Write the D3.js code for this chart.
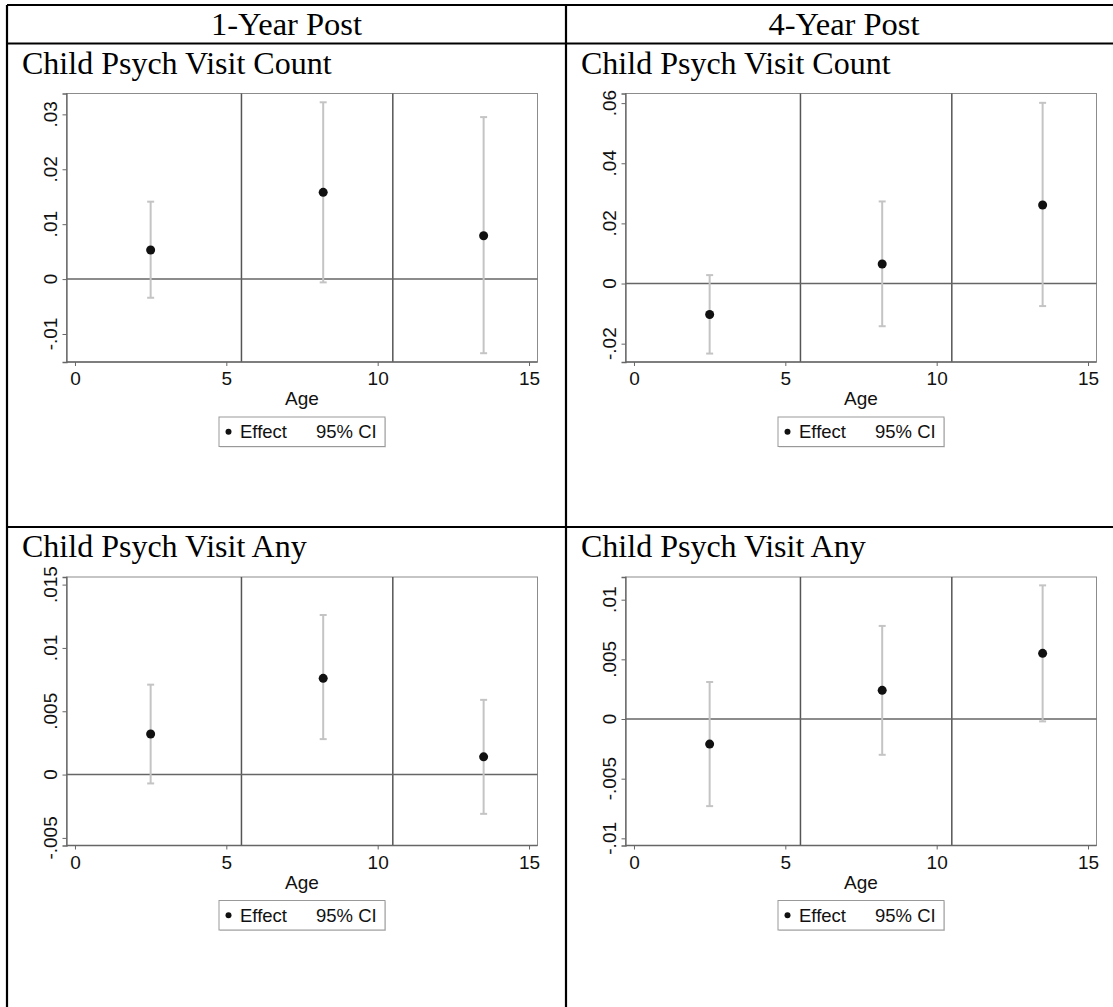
<!DOCTYPE html>
<html>
<head>
<meta charset="utf-8">
<script src="https://cdn.jsdelivr.net/npm/d3@7"></script>
<style>
  body { margin: 0; background: #fff; }
  svg { display: block; }
</style>
</head>
<body>
<div id="chart"></div>
<script>
// age group midpoints on the x axis
const ages = [2.5, 8.2, 13.5];
const cutLines = [5.5, 10.5];
const xTicks = [0, 5, 10, 15];

// 1-year post, visit count
const count1Effect = [0.0053, 0.0158, 0.0079];
const count1Lo = [-0.0034, -0.0006, -0.0135];
const count1Hi = [0.0141, 0.0322, 0.0295];
const count1Ticks = [-0.01, 0, 0.01, 0.02, 0.03];

// 4-year post, visit count
const count4Effect = [-0.0103, 0.0065, 0.0261];
const count4Lo = [-0.0233, -0.0142, -0.0075];
const count4Hi = [0.0028, 0.0273, 0.0601];
const count4Ticks = [-0.02, 0, 0.02, 0.04, 0.06];

// 1-year post, any visit
const any1Effect = [0.0032, 0.0076, 0.0014];
const any1Lo = [-0.0007, 0.0028, -0.0031];
const any1Hi = [0.0071, 0.0126, 0.0059];
const any1Ticks = [-0.005, 0, 0.005, 0.01, 0.015];

// 4-year post, any visit
const any4Effect = [-0.0021, 0.0024, 0.0055];
const any4Lo = [-0.0073, -0.0030, -0.0002];
const any4Hi = [0.0031, 0.0078, 0.0112];
const any4Ticks = [-0.01, -0.005, 0, 0.005, 0.01];

const colHeaders = ["1-Year Post", "4-Year Post"];

const width = 1113, height = 1007;
const colX = [7, 566];
const rowY = [43.5, 527];

const sans = "'Liberation Sans', Arial, sans-serif";
const serif = "'Liberation Serif', 'Times New Roman', serif";

const svg = d3.select("#chart")
  .append("svg")
  .attr("width", width)
  .attr("height", height);

// stata style labels: .01, -.005
const fmt = v => {
  if (v === 0) return "0";
  let s = String(+v.toFixed(4));
  return s.replace("0.", ".");
};

// panel list built from the arrays above
const panels = [
  { col: 0, row: 0, title: "Child Psych Visit Count", eff: count1Effect, lo: count1Lo, hi: count1Hi, ticks: count1Ticks, dom: [-0.0151, 0.0338] },
  { col: 1, row: 0, title: "Child Psych Visit Count", eff: count4Effect, lo: count4Lo, hi: count4Hi, ticks: count4Ticks, dom: [-0.0261, 0.0632] },
  { col: 0, row: 1, title: "Child Psych Visit Any", eff: any1Effect, lo: any1Lo, hi: any1Hi, ticks: any1Ticks, dom: [-0.0056, 0.0156] },
  { col: 1, row: 1, title: "Child Psych Visit Any", eff: any4Effect, lo: any4Lo, hi: any4Hi, ticks: any4Ticks, dom: [-0.0106, 0.0119] }
];

panels.forEach(p => {
  const x0 = colX[p.col], y0 = rowY[p.row];
  const left = x0 + 59.5, right = x0 + 530.5;
  const top = y0 + 50, bottom = y0 + 318.5;

  const g = svg.append("g");

  // title
  g.append("text")
    .attr("x", x0 + 15)
    .attr("y", y0 + 30)
    .attr("font-family", serif)
    .attr("font-size", "32px")
    .attr("fill", "#000")
    .text(p.title);

  let xScale = d3.scaleLinear().domain([-0.28, 15.28]).range([left, right]);
  let yScale = d3.scaleLinear().domain(p.dom).range([bottom, top]);

  // plot frame
  g.append("rect")
    .attr("x", left).attr("y", top)
    .attr("width", right - left).attr("height", bottom - top)
    .attr("fill", "#fff")
    .attr("stroke", "#8c8c8c")
    .attr("stroke-width", 1);

  // reference lines
  g.selectAll(".vline")
    .data(cutLines)
    .enter()
    .append("line")
      .attr("x1", d => xScale(d)).attr("x2", d => xScale(d))
      .attr("y1", top).attr("y2", bottom)
      .attr("stroke", "#555")
      .attr("stroke-width", 1.5);

  g.append("line")
    .attr("x1", left).attr("x2", right)
    .attr("y1", yScale(0)).attr("y2", yScale(0))
    .attr("stroke", "#666")
    .attr("stroke-width", 1.5);

  // y axis
  const yAxis = g.append("g")
    .attr("transform", `translate(${left},0)`)
    .call(d3.axisLeft(yScale).tickValues(p.ticks).tickSize(4).tickFormat(""));
  yAxis.select(".domain").attr("stroke", "#666").attr("stroke-width", 1.3);
  yAxis.selectAll(".tick line").attr("stroke", "#666");

  g.selectAll(".ylab")
    .data(p.ticks)
    .enter()
    .append("text")
      .attr("transform", d => `translate(${left - 16},${yScale(d)}) rotate(-90)`)
      .attr("text-anchor", "middle")
      .attr("dy", "0.36em")
      .attr("font-family", sans)
      .attr("font-size", "19px")
      .attr("fill", "#111")
      .text(d => fmt(d));

  // x axis
  const xAxis = g.append("g")
    .attr("transform", `translate(0,${bottom})`)
    .call(d3.axisBottom(xScale).tickValues(xTicks).tickSize(4).tickPadding(6));
  xAxis.select(".domain").attr("d", `M${left},0H${right}`).attr("stroke", "#666").attr("stroke-width", 1.3);
  xAxis.selectAll(".tick line").attr("stroke", "#666");
  xAxis.selectAll(".tick text")
    .attr("font-family", sans)
    .attr("font-size", "19px")
    .attr("fill", "#111");

  const cx = (left + right) / 2;
  g.append("text")
    .attr("x", cx)
    .attr("y", bottom + 43)
    .attr("text-anchor", "middle")
    .attr("font-family", sans)
    .attr("font-size", "19px")
    .attr("fill", "#111")
    .text("Age");

  // confidence intervals
  const rows = ages.map((a, i) => ({ age: a, eff: p.eff[i], lo: p.lo[i], hi: p.hi[i] }));

  g.selectAll(".ci")
    .data(rows)
    .enter()
    .append("line")
      .attr("x1", d => xScale(d.age)).attr("x2", d => xScale(d.age))
      .attr("y1", d => yScale(d.lo)).attr("y2", d => yScale(d.hi))
      .attr("stroke", "#c4c4c4")
      .attr("stroke-width", 2);

  ["lo", "hi"].forEach(k => {
    g.selectAll(".cap-" + k)
      .data(rows)
      .enter()
      .append("line")
        .attr("x1", d => xScale(d.age) - 3.5).attr("x2", d => xScale(d.age) + 3.5)
        .attr("y1", d => yScale(d[k])).attr("y2", d => yScale(d[k]))
        .attr("stroke", "#c4c4c4")
        .attr("stroke-width", 2);
  });

  // point estimates
  g.selectAll(".pt")
    .data(rows)
    .enter()
    .append("circle")
      .attr("cx", d => xScale(d.age))
      .attr("cy", d => yScale(d.eff))
      .attr("r", 4.5)
      .attr("fill", "#111");

  // legend
  const lw = 166, lh = 29.5;
  const lx = cx - lw / 2, ly = bottom + 55;
  g.append("rect")
    .attr("x", lx + 1).attr("y", ly + 1)
    .attr("width", lw).attr("height", lh)
    .attr("fill", "#d8d8d8");
  g.append("rect")
    .attr("x", lx).attr("y", ly)
    .attr("width", lw).attr("height", lh)
    .attr("fill", "#fff")
    .attr("stroke", "#999")
    .attr("stroke-width", 1);
  g.append("circle")
    .attr("cx", lx + 9.5).attr("cy", ly + lh / 2)
    .attr("r", 3)
    .attr("fill", "#111");
  g.append("text")
    .attr("x", lx + 21).attr("y", ly + lh / 2)
    .attr("dy", "0.36em")
    .attr("font-family", sans)
    .attr("font-size", "18.5px")
    .attr("fill", "#111")
    .text("Effect");
  g.append("text")
    .attr("x", lx + 97).attr("y", ly + lh / 2)
    .attr("dy", "0.36em")
    .attr("font-family", sans)
    .attr("font-size", "18.5px")
    .attr("fill", "#111")
    .text("95% CI");
});

// table borders
const border = svg.append("g").attr("stroke", "#000").attr("stroke-width", 2.2);
border.append("line").attr("x1", 7).attr("x2", width).attr("y1", 5).attr("y2", 5);
border.append("line").attr("x1", 7).attr("x2", width).attr("y1", rowY[0]).attr("y2", rowY[0]);
border.append("line").attr("x1", 7).attr("x2", width).attr("y1", rowY[1]).attr("y2", rowY[1]);
border.append("line").attr("x1", colX[0]).attr("x2", colX[0]).attr("y1", 5).attr("y2", height);
border.append("line").attr("x1", colX[1]).attr("x2", colX[1]).attr("y1", 5).attr("y2", height);

// column headers
svg.selectAll(".hdr")
  .data(colHeaders)
  .enter()
  .append("text")
    .attr("x", (d, i) => i === 0 ? (colX[0] + colX[1]) / 2 : colX[1] + 278)
    .attr("y", 35)
    .attr("text-anchor", "middle")
    .attr("font-family", serif)
    .attr("font-size", "32.5px")
    .attr("fill", "#000")
    .text(d => d);
</script>
</body>
</html>
